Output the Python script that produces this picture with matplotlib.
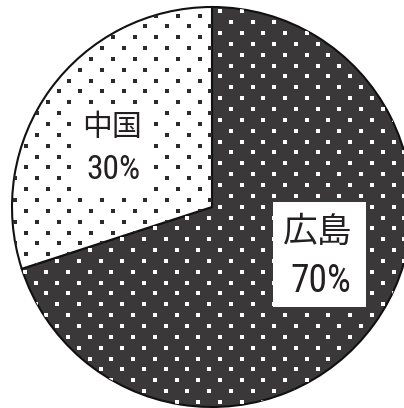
import os
import numpy as np
import matplotlib
matplotlib.use('Agg')
import matplotlib.pyplot as plt
import matplotlib.font_manager as fm
from matplotlib.patches import Rectangle

# share of each region
labels = ['広島', '中国']
shares = [70, 30]
face_colors = ['#3b3839', '#ffffff']
dot_colors = ['#ffffff', '#2b2b2b']

W, H = 404, 408


def narrow_font():
    # the percentages use a tall condensed face, look for one that is installed
    skip = ('bold', 'italic', 'light', 'thin', 'black', 'medium', 'semi', 'oblique', 'heavy')
    files = sorted({f.fname for f in fm.fontManager.ttflist})
    prefs = [('notosans', 'extracondensed'), ('roboto', 'condensed'),
             ('liberationsans', 'narrow'), ('notosans', 'condensed'),
             ('opensans', 'condensed'), ('dejavusans', 'condensed')]
    for fam, kind in prefs:
        for f in files:
            name = os.path.basename(f).lower().replace('-', '').replace('_', '')
            if name.startswith(fam) and kind in name and not any(s in name for s in skip):
                if kind == 'condensed' and 'extracondensed' in name:
                    continue
                return f
    return None


fig = plt.figure(figsize=(W / 100, H / 100), dpi=100)
ax = fig.add_axes([0, 0, 1, 1])

# pie in pixel units (y axis up)
cx, cy, r = 212, H - 207, 200
wedges, _ = ax.pie(shares, startangle=90, counterclock=False,
                   colors=face_colors, center=(cx, cy), radius=r,
                   wedgeprops={'edgecolor': '#111111', 'linewidth': 1.5})

ax.set_xlim(0, W)
ax.set_ylim(0, H)
ax.set_aspect('equal')
ax.axis('off')


# dotted texture, staggered grid clipped to each wedge
def dot_grid(x0, y0, dx=21.7, dy=10.85):
    xs, ys = [], []
    for i, y in enumerate(np.arange(y0 - 40 * dy, H + dy, dy)):
        shift = (dx / 2) * (i % 2)
        for x in np.arange(x0 - 30 * dx + shift, W + dx, dx):
            xs.append(x)
            ys.append(H - y)
    return np.array(xs), np.array(ys)


anchors = [(220, 185), (47.7, 102.3)]
for wedge, col, (ax0, ay0) in zip(wedges, dot_colors, anchors):
    gx, gy = dot_grid(ax0, ay0)
    sc = ax.scatter(gx, gy, s=4.7, marker='s', c=col, linewidths=0, zorder=2)
    sc.set_clip_path(wedge)

for wedge in wedges:
    wedge.set_zorder(1)

# white areas behind the labels
ax.add_patch(Rectangle((273, H - 307), 93, 105, facecolor='white',
                       edgecolor='none', zorder=3))
ax.add_patch(Rectangle((73, H - 194), 79, 88, facecolor='white',
                       edgecolor='none', zorder=3))

cjk = ['Noto Sans CJK JP', 'DejaVu Sans']
txt = '#231f20'
nf = narrow_font()


def num_props(size):
    if nf:
        return fm.FontProperties(fname=nf, size=size)
    return fm.FontProperties(family='DejaVu Sans', stretch='condensed', size=size * 0.8)


ax.text(318, H - 232, labels[0], ha='center', va='center', fontsize=25,
        family=cjk, color=txt, zorder=4)
ax.text(321, H - 281, f'{shares[0]}%', ha='center', va='center',
        fontproperties=num_props(27), color=txt, zorder=4)
ax.text(112, H - 128, labels[1], ha='center', va='center', fontsize=21.5,
        family=cjk, color=txt, zorder=4)
ax.text(113, H - 170, f'{shares[1]}%', ha='center', va='center',
        fontproperties=num_props(24), color=txt, zorder=4)

plt.savefig('out.png', dpi=100)
